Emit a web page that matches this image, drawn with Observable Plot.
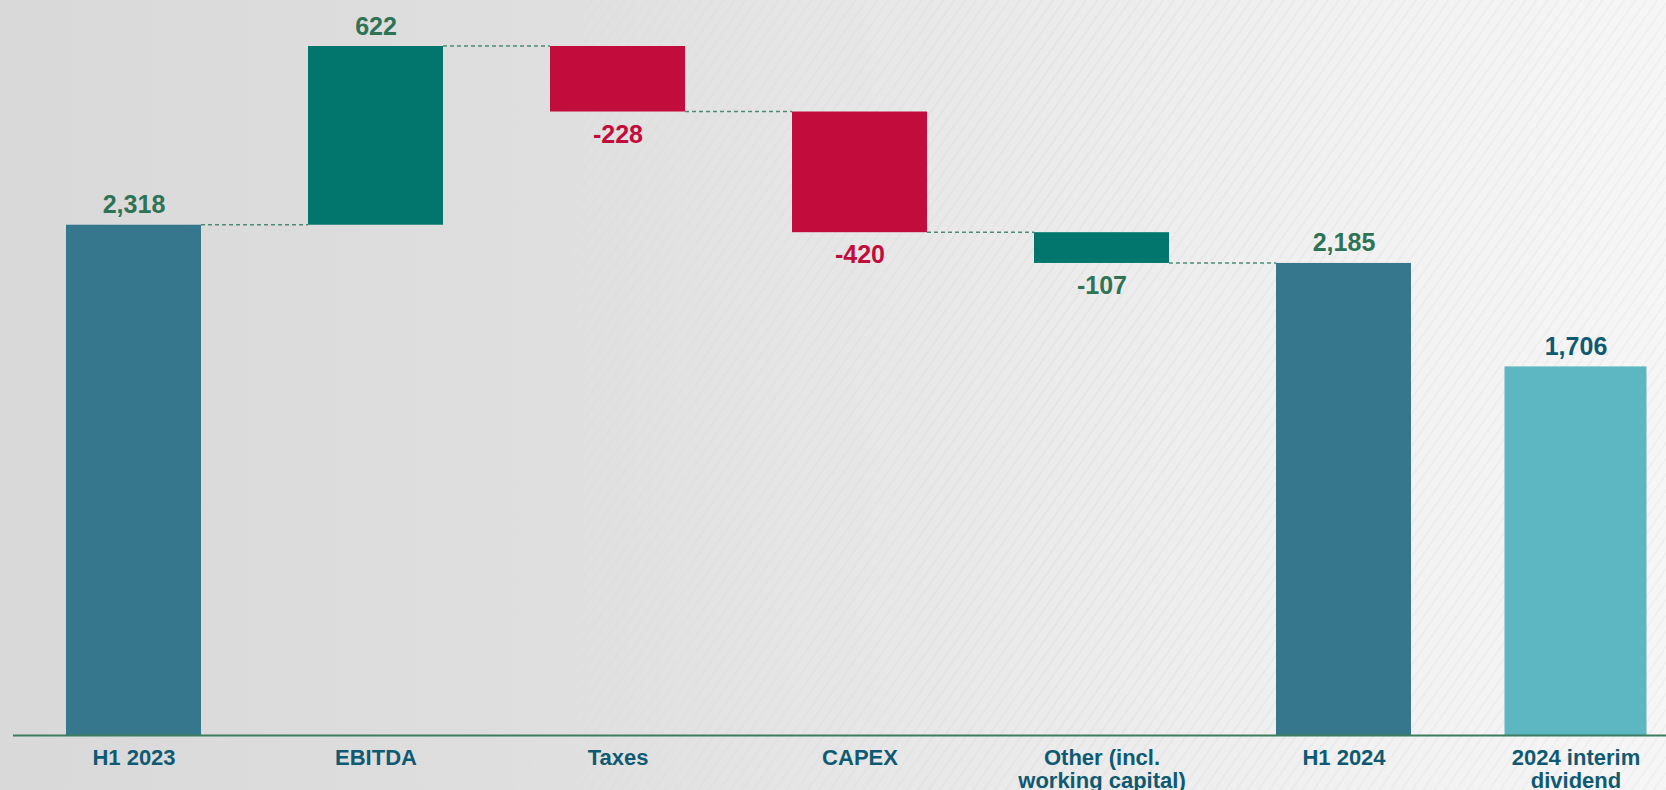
<!DOCTYPE html>
<html>
<head>
<meta charset="utf-8">
<script src="https://cdn.jsdelivr.net/npm/d3@7"></script>
<script src="https://cdn.jsdelivr.net/npm/@observablehq/plot@0.6"></script>
<style>
  html, body { margin: 0; padding: 0; }
  body {
    position: relative;
    width: 1666px; height: 790px; overflow: hidden;
    background: linear-gradient(90deg, #d9d9d9 0%, #dedede 30%, #e8e8e8 55%, #f1f1f1 80%, #f6f6f6 100%);
    font-family: "Liberation Sans", Arial, sans-serif;
  }
  body::before {
    content: ""; position: absolute; inset: 0;
    background: repeating-linear-gradient(-55deg, rgba(0,0,0,0.022) 0px, rgba(0,0,0,0.022) 2px, rgba(255,255,255,0) 2px, rgba(255,255,255,0) 9px);
    -webkit-mask-image: linear-gradient(90deg, transparent 25%, black 65%);
    mask-image: linear-gradient(90deg, transparent 25%, black 65%);
  }
  #chart { position: relative; }
  #chart svg { display: block; background: transparent; overflow: visible; }
</style>
</head>
<body>
<div id="chart"></div>
<script>
// ---- data ----
const categories = ["H1 2023", "EBITDA", "Taxes", "CAPEX", "Other (incl.\nworking capital)", "H1 2024", "2024 interim\ndividend"];
const values = [2318, 622, -228, -420, -107, 2185, 1706];
const kinds = ["total", "increase", "decrease", "decrease", "other", "total", "dividend"];

// ---- styles ----
const barColor = {total: "#36778d", increase: "#02766d", decrease: "#c20c3c", other: "#02766d", dividend: "#5cb7c2"};
const labelColor = {total: "#2e7355", increase: "#2e7355", decrease: "#c20c3c", other: "#2e7355", dividend: "#0e5a72"};

// ---- waterfall table ----
let running = 0;
const rows = categories.map((c, i) => {
  const k = kinds[i];
  let y1, y2;
  if (k === "total" || k === "dividend") { y1 = 0; y2 = values[i]; if (k === "total") running = values[i]; }
  else { y1 = running; y2 = running + values[i]; running = y2; }
  return {cat: c, kind: k, value: values[i], y1, y2, top: Math.max(y1, y2), bottom: Math.min(y1, y2),
          label: values[i].toLocaleString("en-US"), up: k === "increase" || k === "total" || k === "dividend"};
});
// connectors: from bar i to bar i+1 at the running level (none before the dividend bar)
const connectors = [];
for (let i = 0; i < rows.length - 2; i++) {
  connectors.push({from: rows[i].cat, to: rows[i + 1].cat, level: rows[i].y2});
}

// the original chart uses a broken (stretched) axis above the H1 2024 level
const breakAt = values[5];
const stretch = 1.33;
const yTransform = v => v <= breakAt ? v : breakAt + (v - breakAt) * stretch;

const main = rows.filter(d => d.kind !== "dividend");
const div = rows.filter(d => d.kind === "dividend");
const font = "'Liberation Sans', Arial, sans-serif";

const plot = Plot.plot({
  width: 1666,
  height: 790,
  marginTop: 46,
  marginBottom: 55,
  marginLeft: 13,
  marginRight: 0,
  style: {background: "transparent", fontFamily: font, overflow: "visible"},
  x: {domain: categories, paddingInner: 0.442, paddingOuter: 0.136, align: 0.8, label: null},
  y: {transform: yTransform, axis: null},
  marks: [
    Plot.ruleY(connectors, {
      y: "level", x1: "from", x2: "to", stroke: "#4e8c72", strokeWidth: 1.5, strokeDasharray: "4,3",
      render(index, scales, values, dimensions, context) {
        const sx = scales.x;
        const bw = typeof sx.bandwidth === "function" ? sx.bandwidth() : scales.scales.x.bandwidth;
        const g = d3.create("svg:g").attr("stroke", "#4e8c72").attr("stroke-width", 1.5)
          .attr("stroke-dasharray", "4,3").attr("fill", "none");
        for (const i of index) {
          g.append("line")
            .attr("x1", values.x1[i] + bw).attr("x2", values.x2[i])
            .attr("y1", values.y[i]).attr("y2", values.y[i]);
        }
        return g.node();
      }
    }),
    Plot.barY(main, {x: "cat", y1: "y1", y2: "y2", fill: d => barColor[d.kind]}),
    Plot.barY(div, {x: "cat", y1: "y1", y2: "y2", fill: d => barColor[d.kind], insetLeft: -13.5, insetRight: 6.5}),
    Plot.ruleY([0], {stroke: "#3d7d5e", strokeWidth: 2}),
    Plot.text(main.filter(d => d.up), {x: "cat", y: "top", text: "label", fill: d => labelColor[d.kind],
      lineAnchor: "bottom", dy: -12, fontSize: 25, fontWeight: "bold"}),
    Plot.text(main.filter(d => !d.up), {x: "cat", y: "bottom", text: "label", fill: d => labelColor[d.kind],
      lineAnchor: "top", dy: 13, fontSize: 25, fontWeight: "bold"}),
    Plot.text(div, {x: "cat", y: "top", text: "label", fill: d => labelColor[d.kind],
      lineAnchor: "bottom", dy: -12, dx: -10, fontSize: 25, fontWeight: "bold"}),
    Plot.axisX({ticks: categories.slice(0, 6), tickSize: 0, tickPadding: 13.5, fontSize: 22, fontWeight: "bold",
      fill: "#0f5a72", lineHeight: 1.03, label: null}),
    Plot.axisX({ticks: categories.slice(6), tickSize: 0, tickPadding: 13.5, fontSize: 22, fontWeight: "bold",
      fill: "#0f5a72", lineHeight: 1.03, dx: -10, label: null})
  ]
});

document.getElementById("chart").appendChild(plot);
</script>
</body>
</html>
